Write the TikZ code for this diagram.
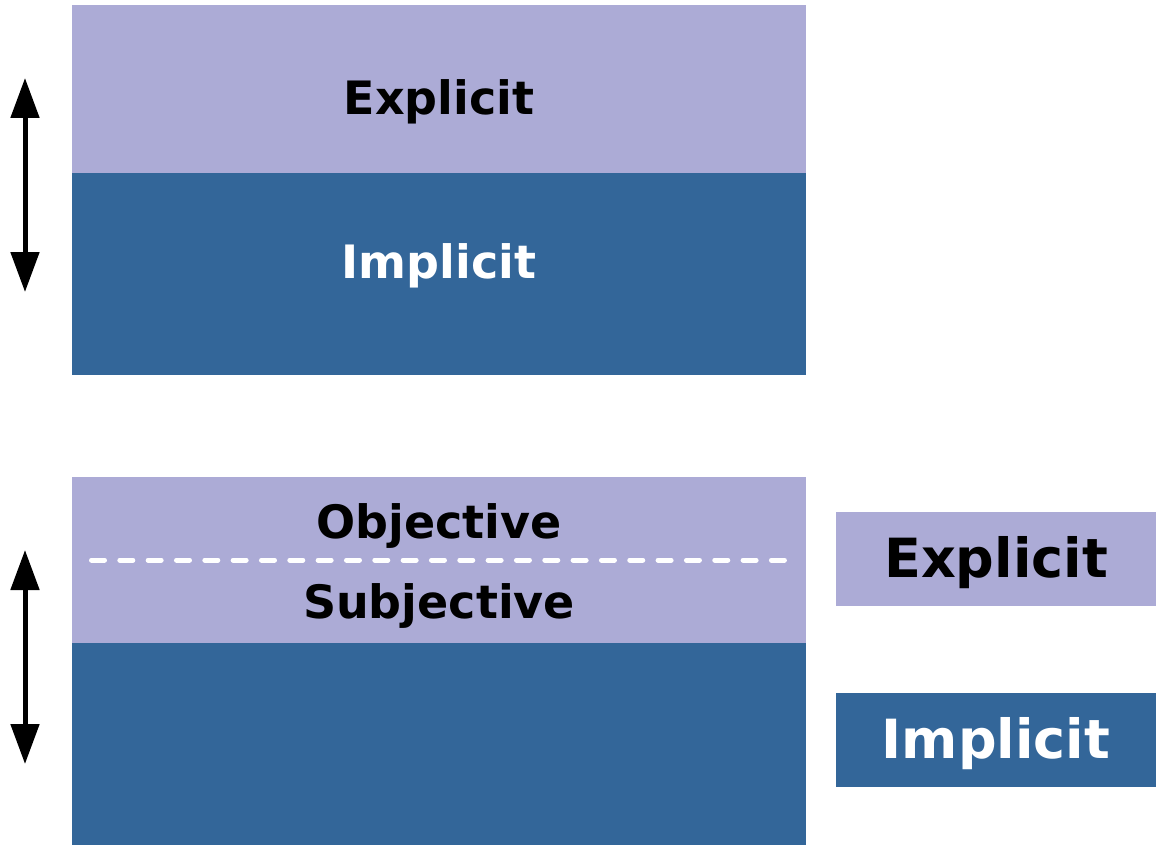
\documentclass[tikz,border=0pt]{standalone}
\usepackage{fontspec}
\setmainfont{DejaVu Sans}
\usetikzlibrary{arrows.meta}
\definecolor{lavender}{HTML}{ACABD6}
\definecolor{steel}{HTML}{336699}
\tikzset{
	band/.style={inner sep=0pt, outer sep=0pt, minimum width=734pt, anchor=north west},
	keybox/.style={inner sep=0pt, outer sep=0pt, minimum width=320pt, minimum height=94pt, anchor=north west},
	word/.style={font=\fontsize{46}{46}\selectfont\bfseries, anchor=base, inner sep=0pt},
	keyword/.style={font=\fontsize{54}{54}\selectfont\bfseries, anchor=base, inner sep=0pt},
	twohead/.style={line width=5pt, {Triangle[length=40pt,width=28pt]}-{Triangle[length=40pt,width=28pt]}},
	divider/.style={draw=white, line width=5pt, line cap=round, dash pattern=on 13pt off 15.33pt}
}
\begin{document}
\begin{tikzpicture}[x=1pt, y=-1pt]
		\useasboundingbox (0,0) rectangle (1156,845);
		% first stack
		\node (ex) [band, fill=lavender, minimum height=168pt] at (72,5) {};
		\node (im) [band, fill=steel, minimum height=202pt] at (72,173) {};
		\node (exword) [word] at (439,115) {Explicit};
		\node (imword) [word, text=white] at (439,278) {Implicit};
		% second stack
		\node (split) [band, fill=lavender, minimum height=166pt] at (72,477) {};
		\node (deep) [band, fill=steel, minimum height=202pt] at (72,643) {};
		\node (obj) [word] at (439,538) {Objective};
		\node (subj) [word] at (439,618) {Subjective};
		\coordinate (dl) at (91.5,560);
		\coordinate (dr) at (784.5,560);
		\draw [divider] (dl) -- (dr);
		% key
		\node (kex) [keybox, fill=lavender] at (836,512) {};
		\node (kim) [keybox, fill=steel] at (836,693) {};
		\node [keyword] at (996,577) {Explicit};
		\node [keyword, text=white] at (996,758) {Implicit};
		% arrows
		\coordinate (a1) at (25,78);
		\coordinate (b1) at (25,292);
		\coordinate (a2) at (25,550);
		\coordinate (b2) at (25,764);
		\draw [twohead] (a1) -- (b1);
		\draw [twohead] (a2) -- (b2);
		\end{tikzpicture}
\end{document}
